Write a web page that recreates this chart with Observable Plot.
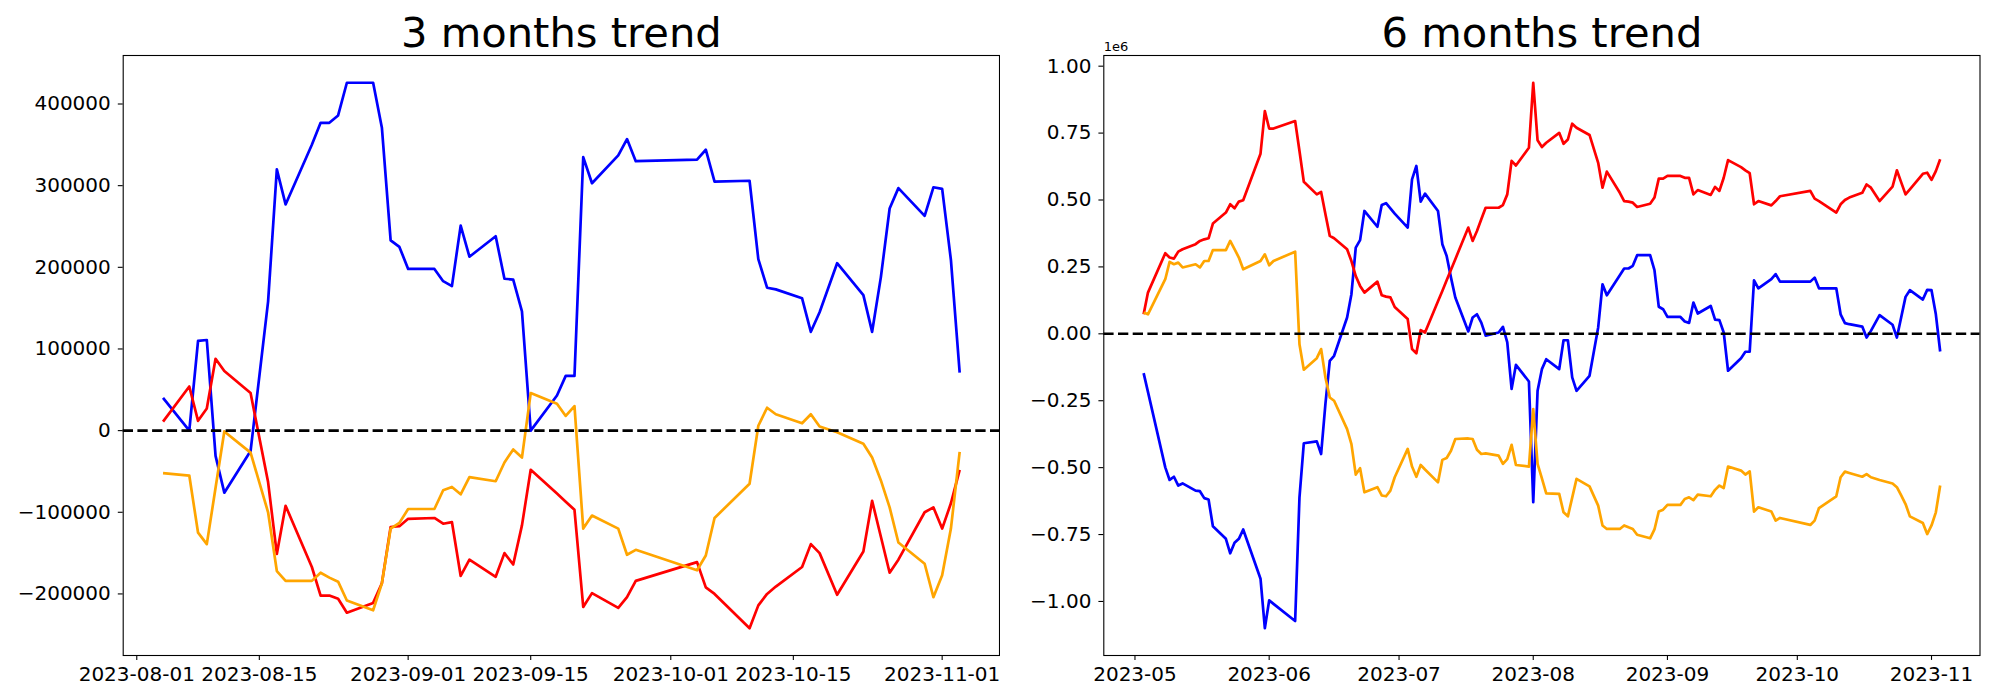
<!DOCTYPE html>
<html>
<head>
<meta charset="utf-8">
<script src="https://cdn.jsdelivr.net/npm/d3@7"></script>
<script src="https://cdn.jsdelivr.net/npm/@observablehq/plot@0.6"></script>
<style>
  html, body { margin: 0; padding: 0; background: white; }
  #chart { display: flex; width: 2000px; height: 700px; }
</style>
</head>
<body>
<div id="chart"></div>
<script>
// ---------- 3 months panel ----------
const dates3 = [
  "2023-08-04","2023-08-07","2023-08-08","2023-08-09","2023-08-10","2023-08-11","2023-08-14","2023-08-16","2023-08-17","2023-08-18",
  "2023-08-21","2023-08-22","2023-08-23","2023-08-24","2023-08-25","2023-08-28","2023-08-29","2023-08-30","2023-08-31","2023-09-01",
  "2023-09-04","2023-09-05","2023-09-06","2023-09-07","2023-09-08","2023-09-11","2023-09-12","2023-09-13","2023-09-14","2023-09-15",
  "2023-09-18","2023-09-19","2023-09-20","2023-09-21","2023-09-22","2023-09-25","2023-09-26","2023-09-27","2023-10-04","2023-10-05",
  "2023-10-06","2023-10-10","2023-10-11","2023-10-12","2023-10-13","2023-10-16","2023-10-17","2023-10-18","2023-10-20","2023-10-23",
  "2023-10-24","2023-10-25","2023-10-26","2023-10-27","2023-10-30","2023-10-31","2023-11-01","2023-11-02","2023-11-03"
];
const blue3 = [
  40000, 0, 110000, 111000, -31000, -76000, -25000, 158000, 320000, 277000,
  350000, 377000, 377000, 386000, 426000, 426000, 371000, 233000, 225000, 198000,
  198000, 183000, 177000, 251000, 213000, 238000, 186000, 185000, 146000, 0,
  43000, 67000, 67000, 335000, 303000, 337000, 357000, 330000, 332000, 344000,
  305000, 306000, 210000, 175000, 173000, 162000, 121000, 145000, 205000, 166000,
  121000, 188000, 272000, 297000, 263000, 298000, 296000, 209000, 71000
];
const red3 = [
  11000, 54000, 12000, 27000, 88000, 73000, 46000, -63000, -151000, -92000,
  -167000, -202000, -202000, -206000, -223000, -211000, -187000, -118000, -117000, -108000,
  -107000, -114000, -112000, -178000, -158000, -179000, -150000, -164000, -116000, -48000,
  -77000, -87000, -97000, -216000, -199000, -217000, -204000, -184000, -161000, -192000,
  -200000, -242000, -214000, -200000, -191000, -167000, -139000, -150000, -201000, -148000,
  -86000, -130000, -174000, -158000, -100000, -94000, -120000, -89000, -48000
];
const orange3 = [
  -52000, -55000, -125000, -139000, -70000, -1000, -27000, -100000, -172000, -184000,
  -184000, -174000, -180000, -185000, -208000, -220000, -187000, -120000, -113000, -96000,
  -96000, -73000, -69000, -78000, -57000, -62000, -39000, -23000, -33000, 46000,
  33000, 18000, 30000, -120000, -104000, -120000, -152000, -146000, -171000, -153000,
  -107000, -65000, 6000, 28000, 20000, 9000, 20000, 5000, -2000, -16000,
  -33000, -61000, -94000, -137000, -163000, -204000, -177000, -120000, -26000
];
const xTicks3 = ["2023-08-01","2023-08-15","2023-09-01","2023-09-15","2023-10-01","2023-10-15","2023-11-01"];
const yTicks3 = [-200000, -100000, 0, 100000, 200000, 300000, 400000];

// ---------- 6 months panel ----------
const dates6 = [
  "2023-05-03","2023-05-04","2023-05-08","2023-05-09","2023-05-10","2023-05-11","2023-05-12","2023-05-15","2023-05-16","2023-05-17",
  "2023-05-18","2023-05-19","2023-05-22","2023-05-23","2023-05-24","2023-05-25","2023-05-26","2023-05-30","2023-05-31","2023-06-01",
  "2023-06-02","2023-06-07","2023-06-08","2023-06-09","2023-06-12","2023-06-13","2023-06-14","2023-06-15","2023-06-16","2023-06-19",
  "2023-06-20","2023-06-21","2023-06-22","2023-06-23","2023-06-26","2023-06-27","2023-06-28","2023-06-29","2023-06-30","2023-07-03",
  "2023-07-04","2023-07-05","2023-07-06","2023-07-07","2023-07-10","2023-07-11","2023-07-12","2023-07-13","2023-07-14","2023-07-17",
  "2023-07-18","2023-07-19","2023-07-20","2023-07-21","2023-07-24","2023-07-25","2023-07-26","2023-07-27","2023-07-28","2023-07-31",
  "2023-08-01","2023-08-02","2023-08-03","2023-08-04","2023-08-07","2023-08-08","2023-08-09","2023-08-10","2023-08-11","2023-08-14",
  "2023-08-16","2023-08-17","2023-08-18","2023-08-21","2023-08-22","2023-08-23","2023-08-24","2023-08-25","2023-08-28","2023-08-29",
  "2023-08-30","2023-08-31","2023-09-01","2023-09-04","2023-09-05","2023-09-06","2023-09-07","2023-09-08","2023-09-11","2023-09-12",
  "2023-09-13","2023-09-14","2023-09-15","2023-09-18","2023-09-19","2023-09-20","2023-09-21","2023-09-22","2023-09-25","2023-09-26",
  "2023-09-27","2023-10-04","2023-10-05","2023-10-06","2023-10-10","2023-10-11","2023-10-12","2023-10-13","2023-10-16","2023-10-17",
  "2023-10-18","2023-10-20","2023-10-23","2023-10-24","2023-10-25","2023-10-26","2023-10-27","2023-10-30","2023-10-31","2023-11-01",
  "2023-11-02","2023-11-03"
];
const red6 = [
  73000, 154000, 301000, 285000, 281000, 307000, 316000, 335000, 347000, 353000,
  357000, 412000, 453000, 484000, 469000, 494000, 499000, 673000, 832000, 767000,
  767000, 795000, 683000, 568000, 521000, 530000, 447000, 366000, 357000, 316000,
  272000, 216000, 179000, 154000, 195000, 144000, 139000, 136000, 100000, 55000,
  -57000, -73000, 14000, 5000, 122000, 160000, 200000, 239000, 279000, 397000,
  347000, 384000, 428000, 471000, 471000, 481000, 521000, 646000, 629000, 695000,
  938000, 723000, 698000, 714000, 751000, 710000, 726000, 785000, 770000, 743000,
  639000, 546000, 606000, 527000, 496000, 494000, 490000, 474000, 486000, 509000,
  580000, 580000, 590000, 590000, 583000, 583000, 521000, 537000, 519000, 549000,
  534000, 583000, 649000, 623000, 611000, 600000, 484000, 496000, 480000, 496000,
  514000, 534000, 505000, 496000, 453000, 484000, 500000, 509000, 527000, 558000,
  546000, 496000, 550000, 611000, 566000, 521000, 540000, 598000, 602000, 575000,
  608000, 652000
];
const blue6 = [
  -147000, -217000, -499000, -546000, -534000, -567000, -559000, -586000, -588000, -614000,
  -619000, -719000, -766000, -820000, -781000, -766000, -731000, -915000, -1100000, -996000,
  -1009000, -1073000, -611000, -409000, -402000, -449000, -261000, -101000, -82000, 61000,
  148000, 322000, 350000, 459000, 400000, 481000, 488000, 469000, 449000, 397000,
  577000, 627000, 494000, 524000, 459000, 335000, 291000, 210000, 136000, 9000,
  61000, 73000, 42000, -7000, 5000, 26000, -32000, -206000, -116000, -178000,
  -629000, -213000, -132000, -95000, -132000, -24000, -24000, -163000, -213000, -157000,
  24000, 185000, 144000, 219000, 244000, 244000, 254000, 294000, 294000, 238000,
  101000, 92000, 63000, 63000, 46000, 41000, 117000, 76000, 104000, 53000,
  51000, 5000, -138000, -91000, -67000, -67000, 200000, 170000, 204000, 223000,
  195000, 195000, 210000, 170000, 170000, 73000, 40000, 36000, 27000, -14000,
  11000, 70000, 34000, -14000, 62000, 138000, 163000, 128000, 164000, 163000,
  73000, -66000
];
const orange6 = [
  80000, 73000, 204000, 269000, 260000, 266000, 248000, 260000, 248000, 272000,
  272000, 313000, 313000, 347000, 316000, 285000, 241000, 272000, 297000, 256000,
  272000, 307000, -39000, -134000, -91000, -57000, -163000, -238000, -250000, -356000,
  -412000, -526000, -502000, -592000, -573000, -604000, -607000, -586000, -536000, -430000,
  -496000, -534000, -490000, -507000, -555000, -471000, -464000, -437000, -393000, -391000,
  -393000, -433000, -449000, -447000, -455000, -486000, -468000, -415000, -490000, -496000,
  -281000, -486000, -540000, -596000, -598000, -667000, -682000, -612000, -542000, -570000,
  -642000, -716000, -729000, -729000, -716000, -723000, -729000, -751000, -764000, -731000,
  -664000, -657000, -639000, -639000, -617000, -611000, -621000, -601000, -607000, -583000,
  -567000, -576000, -496000, -511000, -526000, -514000, -664000, -648000, -664000, -698000,
  -688000, -714000, -698000, -651000, -607000, -536000, -515000, -520000, -534000, -524000,
  -536000, -546000, -559000, -573000, -604000, -636000, -682000, -707000, -748000, -716000,
  -667000, -567000
];
const xTicks6 = ["2023-05-01","2023-06-01","2023-07-01","2023-08-01","2023-09-01","2023-10-01","2023-11-01"];
const yTicks6 = [-1000000, -750000, -500000, -250000, 0, 250000, 500000, 750000, 1000000];

// ---------- drawing ----------
const parse = d3.utcParse("%Y-%m-%d");
const minus = s => s.replace("-", "\u2212");

function paddedDomain(lo, hi) {
  const p = (hi - lo) * 0.05;
  return [lo - p, hi + p];
}

function panel({dates, series, xTicks, xFmt, yTicks, yFmt, title, marginLeft, marginRight, offsetText}) {
  const ds = dates.map(parse);
  const t0 = +ds[0], t1 = +ds[ds.length - 1];
  const xd = paddedDomain(t0, t1).map(t => new Date(t));
  const all = series.flatMap(s => s.values);
  const yd = paddedDomain(d3.min(all), d3.max(all));
  const lines = series.map(s =>
    Plot.line(s.values.map((v, i) => ({date: ds[i], value: v})), {
      x: "date", y: "value", stroke: s.color, strokeWidth: 2.7,
      strokeLinejoin: "round", strokeLinecap: "butt"
    })
  );
  const marks = [
    ...lines,
    Plot.ruleY([0], {stroke: "black", strokeWidth: 2.6, strokeDasharray: "10.3,4.4"}),
    Plot.frame({stroke: "black", strokeWidth: 1.1}),
    Plot.axisX(xTicks.map(parse), {tickFormat: xFmt, tickSize: 4.9, tickPadding: 6.5, strokeWidth: 1.1, fontSize: 20, label: null}),
    Plot.axisY(yTicks, {tickFormat: yFmt, tickSize: 4.9, tickPadding: 7.5, strokeWidth: 1.1, fontSize: 20, label: null}),
    Plot.text([title], {frameAnchor: "top", dy: -8.3, lineAnchor: "bottom", fontSize: 41.67, fill: "black"})
  ];
  if (offsetText) {
    marks.push(Plot.text([offsetText], {frameAnchor: "top-left", textAnchor: "start", lineAnchor: "bottom", dy: -4.3, fontSize: 13, fill: "black"}));
  }
  return Plot.plot({
    width: 1000, height: 700,
    marginTop: 55, marginBottom: 45, marginLeft, marginRight,
    style: {fontFamily: "DejaVu Sans", fontSize: "20px", background: "white", color: "black", overflow: "visible"},
    x: {type: "utc", domain: xd},
    y: {domain: yd},
    marks
  });
}

const chart = document.getElementById("chart");
chart.append(panel({
  dates: dates3,
  series: [
    {values: blue3, color: "blue"},
    {values: red3, color: "red"},
    {values: orange3, color: "orange"}
  ],
  xTicks: xTicks3, xFmt: d3.utcFormat("%Y-%m-%d"),
  yTicks: yTicks3, yFmt: d => minus(String(d)),
  title: "3 months trend", marginLeft: 122.7, marginRight: 1
}));
chart.append(panel({
  dates: dates6,
  series: [
    {values: blue6, color: "blue"},
    {values: red6, color: "red"},
    {values: orange6, color: "orange"}
  ],
  xTicks: xTicks6, xFmt: d3.utcFormat("%Y-%m"),
  yTicks: yTicks6, yFmt: d => minus((d / 1e6).toFixed(2)),
  title: "6 months trend", marginLeft: 103.3, marginRight: 20.5, offsetText: "1e6"
}));
</script>
</body>
</html>
